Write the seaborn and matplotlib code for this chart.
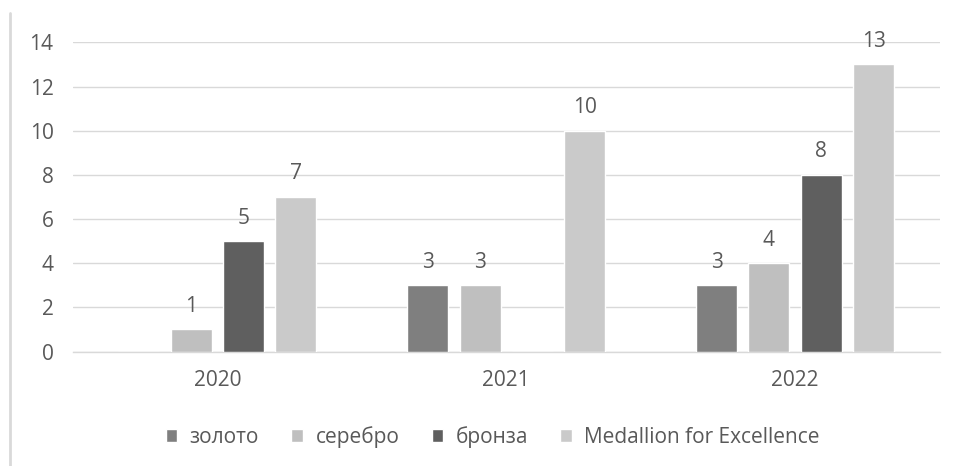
import pandas as pd
import numpy as np
import matplotlib
matplotlib.use('Agg')
import matplotlib.pyplot as plt
import seaborn as sns
from matplotlib.lines import Line2D

# данные
years = ['2020', '2021', '2022']
series = ['золото', 'серебро', 'бронза', 'Medallion for Excellence']
gold = [0, 3, 3]
silver = [1, 3, 4]
bronze = [5, 0, 8]
medallion = [7, 10, 13]
colors = ['#7f7f7f', '#bfbfbf', '#5f5f5f', '#cacaca']

rows = []
for name, vals in zip(series, [gold, silver, bronze, medallion]):
    for y, v in zip(years, vals):
        rows.append({'year': y, 'medal': name, 'count': v})
df = pd.DataFrame(rows)

sns.set_theme(style='white')
plt.rcParams['font.family'] = ['Open Sans', 'DejaVu Sans']
text_col = '#595959'
grid_col = '#d9d9d9'
fs = 15

fig = plt.figure(figsize=(9.55, 4.66), dpi=100)
ax = fig.add_axes([0.0764, 0.2457, 0.9074, 0.6633])

sns.barplot(data=df, x='year', y='count', hue='medal', order=years, hue_order=series,
            palette=dict(zip(series, colors)), width=0.724, gap=0.216,
            saturation=1, ax=ax, legend=True, zorder=3)

# подписи над столбцами (нули не подписываем)
for cont in ax.containers:
    labels = ['' if b.get_height() == 0 else f'{b.get_height():.0f}' for b in cont]
    t = ax.bar_label(cont, labels=labels, padding=9, color=text_col, fontsize=fs)
    for tx in t:
        tx.set_clip_on(False)

ax.set_ylim(0, 14)
ax.set_yticks(range(0, 15, 2))
ax.set_xlim(-0.5, 2.5)
ax.yaxis.grid(True, color=grid_col, lw=1, zorder=0)
ax.set_axisbelow(True)
for s in ['top', 'right', 'left']:
    ax.spines[s].set_visible(False)
ax.spines['bottom'].set_color(grid_col)
ax.spines['bottom'].set_linewidth(1)
ax.set_xlabel('')
ax.set_ylabel('')
ax.tick_params(axis='y', length=0, pad=14, labelsize=fs, labelcolor=text_col)
ax.tick_params(axis='x', length=0, pad=13, labelsize=fs, labelcolor=text_col)

# легенда снизу
handles, lbls = ax.get_legend_handles_labels()
ax.get_legend().remove()
fig.legend(handles, lbls, loc='center', bbox_to_anchor=(0.516, 0.062), ncol=4,
           frameon=False, handlelength=0.55, handleheight=0.55, handletextpad=0.6,
           columnspacing=1.55, fontsize=fs, labelcolor=text_col)

# левая рамка
fig.add_artist(Line2D([0.0105, 0.0105], [0.0, 0.972], color=grid_col, lw=2))

fig.savefig('out.png', dpi=100)
